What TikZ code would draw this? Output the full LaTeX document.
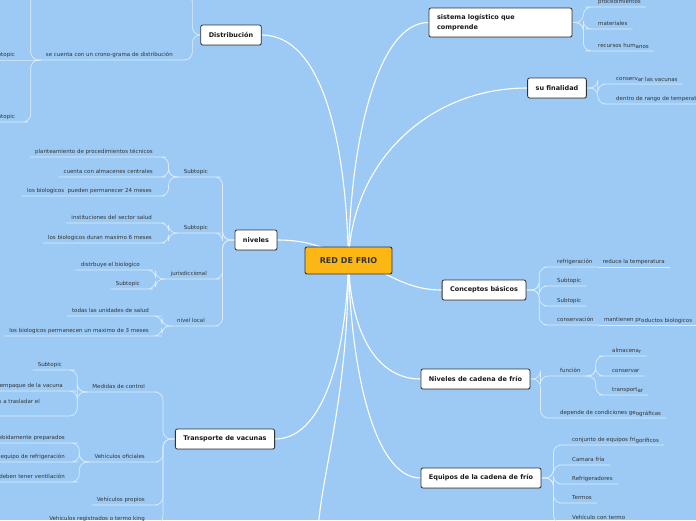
\documentclass[tikz,border=0pt]{standalone}
\usepackage{fontspec}
\setmainfont{DejaVu Sans}
\usepackage{tikz}
\usetikzlibrary{positioning,shadows,backgrounds}
\definecolor{mapBlue}{HTML}{9CCAF4}
\definecolor{mapAmber}{HTML}{FCB714}
\definecolor{mapInk}{HTML}{333333}
\newcommand{\lowpart}[1]{\raisebox{-1.3pt}{#1}}
\tikzset{
  rootbox/.style={draw=black!80,fill=mapAmber,rounded corners=2pt,line width=0.9pt,
    minimum width=87pt,minimum height=27pt,text=black!80,
    font=\bfseries\fontsize{8}{9}\selectfont},
  topic/.style={draw=black!80,fill=white,rounded corners=2pt,line width=0.8pt,
    minimum height=20pt,inner xsep=8pt,text=black!90,
    font=\bfseries\fontsize{6.5}{9.5}\selectfont,
    drop shadow={opacity=0.35,shadow xshift=0.7pt,shadow yshift=-0.9pt}},
  leaf/.style={font=\fontsize{5.5}{6.5}\selectfont,text=mapInk,inner xsep=5pt,
    inner ysep=2.5pt,text height=4pt,text depth=1.2pt},
  branch/.style={draw=white,line width=1.1pt},
  twig/.style={draw=white!65!mapBlue,line width=0.7pt,rounded corners=8pt}
}

\begin{document}
\begin{tikzpicture}[x=1pt,y=-1pt]
  \useasboundingbox (0,0) rectangle (696,520);

  \node[rootbox] (root) at (348.5,260.5) {RED DE FRIO};

  \node[topic] (distrib) at (231,35) {Distribución};
  \node[topic] (niveles) at (256,240) {niveles};
  \node[topic] (transp) at (225,439) {Transporte de vacunas};
  \node[topic, text width=127pt, align=left, minimum height=29pt] (sistema) at (500.5,22.5) {sistema logístico que\\comprende};
  \node[topic] (finalidad) at (557,88) {su finalidad};
  \node[topic] (conceptos) at (484,290) {Conceptos básicos};
  \node[topic] (nivcadena) at (475.5,379) {Niveles de cadena de frío};
  \node[topic] (equipos) at (481,478) {Equipos de la cadena de frío};

  \coordinate (distup) at (186,-6);
  \node[leaf, anchor=south east] (crono) at (178,60) {se cuenta con un crono-grama de distribución};
  \coordinate (cronoup) at (14,-6);
  \node[leaf, anchor=south east] (crsub1) at (20,60) {Subtopic};
  \node[leaf, anchor=south east] (crsub2) at (20,122) {Subtopic};

  \node[leaf, anchor=south east] (niv1) at (213,177) {Subtopic};
  \node[leaf, anchor=south east] (niv1a) at (158,157) {planteamiento de procedimientos técnicos};
  \node[leaf, anchor=south east] (niv1b) at (158,177) {cuenta con almacenes centrales};
  \node[leaf, anchor=south east] (niv1c) at (157,196) {los biologicos~ pueden permanecer 24 meses};
  \node[leaf, anchor=south east] (niv2) at (213,233) {Subtopic};
  \node[leaf, anchor=south east] (niv2a) at (157,223) {instituciones del sector salud};
  \node[leaf, anchor=south east] (niv2b) at (157,243) {los biologicos duran maximo 6 meses};
  \node[leaf, anchor=south east] (niv3) at (212,279) {jurisdiccional};
  \node[leaf, anchor=south east] (niv3a) at (145,270) {distrbuye el biologico};
  \node[leaf, anchor=south east] (niv3b) at (145,289) {Subtopic};
  \node[leaf, anchor=south east] (niv4) at (210,326) {nivel local};
  \node[leaf, anchor=south east] (niv4a) at (154,316) {todas las unidades de salud};
  \node[leaf, anchor=south east] (niv4b) at (154,336) {los biologicos permanecen un maximo de 3 meses};

  \node[leaf, anchor=south east] (medidas) at (150,392) {Medidas de control};
  \node[leaf, anchor=south east] (med1) at (67,370) {Subtopic};
  \node[leaf, anchor=south east] (med2) at (68,391) {empaque de la vacuna};
  \node[leaf, anchor=south east, text depth=9.5pt] (med3) at (45,416) {s a trasladar el};
  \node[leaf, anchor=south east] (oficiales) at (150,462) {Vehiculos oficiales};
  \node[leaf, anchor=south east] (ofi1) at (70,443) {ebidamente preparados};
  \node[leaf, anchor=south east] (ofi2) at (70,462) {equipo de refrigeración};
  \node[leaf, anchor=south east] (ofi3) at (70,482) {deben tener ventilación};
  \node[leaf, anchor=south east] (propios) at (150,505) {Vehículos propios};
  \node[leaf, anchor=south east] (registrados) at (150,524) {Vehiculos registrados o termo king};

  \node[leaf, anchor=south west] (proced) at (593,7) {procedimientos};
  \node[leaf, anchor=south west] (materiales) at (593,29) {materiales};
  \node[leaf, anchor=south west] (recursos) at (593,51) {recursos hum\lowpart{anos}};
  \node[leaf, anchor=south west] (conservar) at (611,84) {conserv\lowpart{ar las vacunas}};
  \node[leaf, anchor=south west] (dentro) at (611,104) {dentro de rango de temperatura};

  \node[leaf, anchor=south west] (refrig) at (552,267) {refrigeración};
  \node[leaf, right=0pt of refrig] (reduce) {reduce la temperatura};
  \node[leaf, anchor=south west] (csub1) at (552,286) {Subtopic};
  \node[leaf, anchor=south west] (csub2) at (552,306) {Subtopic};
  \node[leaf, anchor=south west] (conserv) at (552,325) {conservación};
  \node[leaf, right=0pt of conserv] (mantienen) {mantienen pr\lowpart{oductos biologicos}};

  \node[leaf, anchor=south west] (funcion) at (555,376) {función};
  \node[leaf, anchor=south west] (almacenar) at (607,356) {almacena\lowpart{r}};
  \node[leaf, anchor=south west] (conservar2) at (607,376) {conservar};
  \node[leaf, anchor=south west] (transportar) at (607,395) {transport\lowpart{ar}};
  \node[leaf, anchor=south west] (depende) at (555,418) {depende de condiciones ge\lowpart{ográficas}};

  \node[leaf, anchor=south west] (eq1) at (567,445) {conjunto de equipos fri\lowpart{goríficos}};
  \node[leaf, anchor=south west] (eq2) at (567,465) {Camara fría};
  \node[leaf, anchor=south west] (eq3) at (567,484) {Refrigeradores};
  \node[leaf, anchor=south west] (eq4) at (567,503) {Termos};
  \node[leaf, anchor=south west] (eq5) at (567,523) {Vehículo con termo};

  \coordinate (rootdown) at (318,530);

  \begin{scope}[on background layer]
    \fill[mapBlue] (0,0) rectangle (696,520);

    \draw[branch] (distrib.east) .. controls (322,35) and (346,140) .. (root.center);
    \draw[branch] (niveles.east) .. controls (312,240) and (330,250) .. (root.center);
    \draw[branch] (transp.east) .. controls (322,439) and (346,360) .. (root.center);
    \draw[branch] (root.center) .. controls (348,400) and (322,470) .. (rootdown);
    \draw[branch] (sistema.west) .. controls (378,22) and (350,140) .. (root.center);
    \draw[branch] (finalidad.west) .. controls (430,88) and (352,160) .. (root.center);
    \draw[branch] (conceptos.west) .. controls (400,290) and (380,265) .. (root.center);
    \draw[branch] (nivcadena.west) .. controls (375,379) and (350,330) .. (root.center);
    \draw[branch] (equipos.west) .. controls (372,478) and (350,360) .. (root.center);

    \draw[twig] (distrib.west) -- ++(-8,0) |- (distup);
    \draw[twig] (distrib.west) -- ++(-8,0) |- (crono.south east) -- (crono.south west);
    \draw[twig] (crono.south west) -- ++(-10,0) |- (cronoup);
    \draw[twig] (crono.south west) -- (crsub1.south east) -- (crsub1.south west);
    \draw[twig] (crono.south west) -- ++(-10,0) |- (crsub2.south east) -- (crsub2.south west);

    \foreach \n in {niv1,niv2,niv3,niv4}
      \draw[twig] (niveles.west) -- ++(-12,0) |- (\n.south east) -- (\n.south west);
    \foreach \n in {niv1a,niv1b,niv1c}
      \draw[twig] (niv1.south west) -- ++(-10,0) |- (\n.south east) -- (\n.south west);
    \foreach \n in {niv2a,niv2b}
      \draw[twig] (niv2.south west) -- ++(-10,0) |- (\n.south east) -- (\n.south west);
    \foreach \n in {niv3a,niv3b}
      \draw[twig] (niv3.south west) -- ++(-10,0) |- (\n.south east) -- (\n.south west);
    \foreach \n in {niv4a,niv4b}
      \draw[twig] (niv4.south west) -- ++(-10,0) |- (\n.south east) -- (\n.south west);

    \foreach \n in {medidas,oficiales,propios,registrados}
      \draw[twig] (transp.west) -- ++(-12,0) |- (\n.south east) -- (\n.south west);
    \foreach \n in {med1,med2,med3}
      \draw[twig] (medidas.south west) -- ++(-10,0) |- (\n.south east) -- (\n.south west);
    \foreach \n in {ofi1,ofi2,ofi3}
      \draw[twig] (oficiales.south west) -- ++(-10,0) |- (\n.south east) -- (\n.south west);

    \foreach \n in {proced,materiales,recursos}
      \draw[twig] (sistema.east) -- ++(11,0) |- (\n.south west) -- (\n.south east);
    \foreach \n in {conservar,dentro}
      \draw[twig] (finalidad.east) -- ++(11,0) |- (\n.south west) -- (\n.south east);
    \foreach \n in {refrig,csub1,csub2,conserv}
      \draw[twig] (conceptos.east) -- ++(13,0) |- (\n.south west) -- (\n.south east);
    \draw[twig] (refrig.south east) -- (reduce.south east);
    \draw[twig] (conserv.south east) -- (mantienen.south east);
    \foreach \n in {funcion,depende}
      \draw[twig] (nivcadena.east) -- ++(10,0) |- (\n.south west) -- (\n.south east);
    \foreach \n in {almacenar,conservar2,transportar}
      \draw[twig] (funcion.south east) -- ++(10,0) |- (\n.south west) -- (\n.south east);
    \foreach \n in {eq1,eq2,eq3,eq4,eq5}
      \draw[twig] (equipos.east) -- ++(12,0) |- (\n.south west) -- (\n.south east);
  \end{scope}
\end{tikzpicture}
\end{document}
